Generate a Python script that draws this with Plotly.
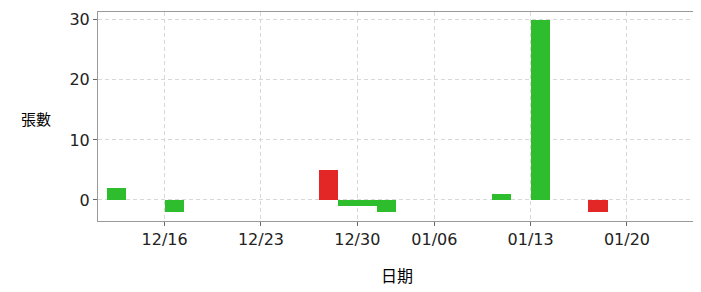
import plotly.graph_objects as go

# Data (trading days, Taiwan market)
dates = ["2019-12-11", "2019-12-16", "2019-12-26", "2019-12-27", "2019-12-30",
         "2019-12-31", "2020-01-09", "2020-01-13", "2020-01-16"]
values = [2, -2, 5, -1, -1, -2, 1, 30, -2]
colors_key = ["g", "g", "r", "g", "g", "g", "g", "g", "r"]
tick_dates = ["2019-12-16", "2019-12-23", "2019-12-30", "2020-01-06", "2020-01-13", "2020-01-20"]
tick_labels = ["12/16", "12/23", "12/30", "01/06", "01/13", "01/20"]
holidays = ["2020-01-01"]
y_ticks = [0, 10, 20, 30]

GREEN = "#2dbd2d"
RED = "#e32727"
cmap = {"g": GREEN, "r": RED}

DAY = 86400000

fig = go.Figure()
fig.add_trace(go.Bar(
    x=dates, y=values,
    width=[DAY] * len(dates), offset=0,
    marker=dict(color=[cmap[c] for c in colors_key], line=dict(width=0)),
    showlegend=False,
))

font_lat = "DejaVu Sans, Arial, sans-serif"
font_cjk = "Noto Sans CJK TC, sans-serif"

fig.update_layout(
    width=693, height=284,
    margin=dict(l=90, r=5, t=4, b=71),
    paper_bgcolor="white", plot_bgcolor="white",
    bargap=0,
    font=dict(family=font_lat, size=16, color="#222"),
    xaxis=dict(
        type="date", automargin=False,
        range=["2019-12-10 13:00", "2020-01-23 14:00"],
        rangebreaks=[dict(bounds=["sat", "mon"]), dict(values=holidays)],
        tickvals=tick_dates, ticktext=tick_labels,
        ticks="outside", ticklen=4, tickcolor="#666",
        showgrid=True, gridcolor="#d8d8d8", griddash="4px,3px", gridwidth=1,
        showline=True, linecolor="#9a9a9a", mirror=True, linewidth=1,
        tickfont=dict(family=font_lat, size=16, color="#222"),
        zeroline=False,
    ),
    yaxis=dict(
        automargin=False,
        range=[-3.5, 31.3],
        tickvals=y_ticks,
        ticks="outside", ticklen=4, tickcolor="#666",
        showgrid=True, gridcolor="#d8d8d8", griddash="4px,3px", gridwidth=1,
        showline=True, linecolor="#9a9a9a", mirror=True, linewidth=1,
        tickfont=dict(family=font_lat, size=16, color="#222"),
        zeroline=False,
    ),
    annotations=[
        dict(text="張數", xref="paper", yref="paper",
             x=-0.075, y=0.49, xanchor="right", yanchor="middle",
             showarrow=False, font=dict(family=font_cjk, size=15, color="#000")),
        dict(text="日期", xref="paper", yref="paper",
             x=0.5, y=-0.26, xanchor="center", yanchor="middle",
             showarrow=False, font=dict(family=font_cjk, size=16, color="#000")),
    ],
)

fig.write_html("out.html")
